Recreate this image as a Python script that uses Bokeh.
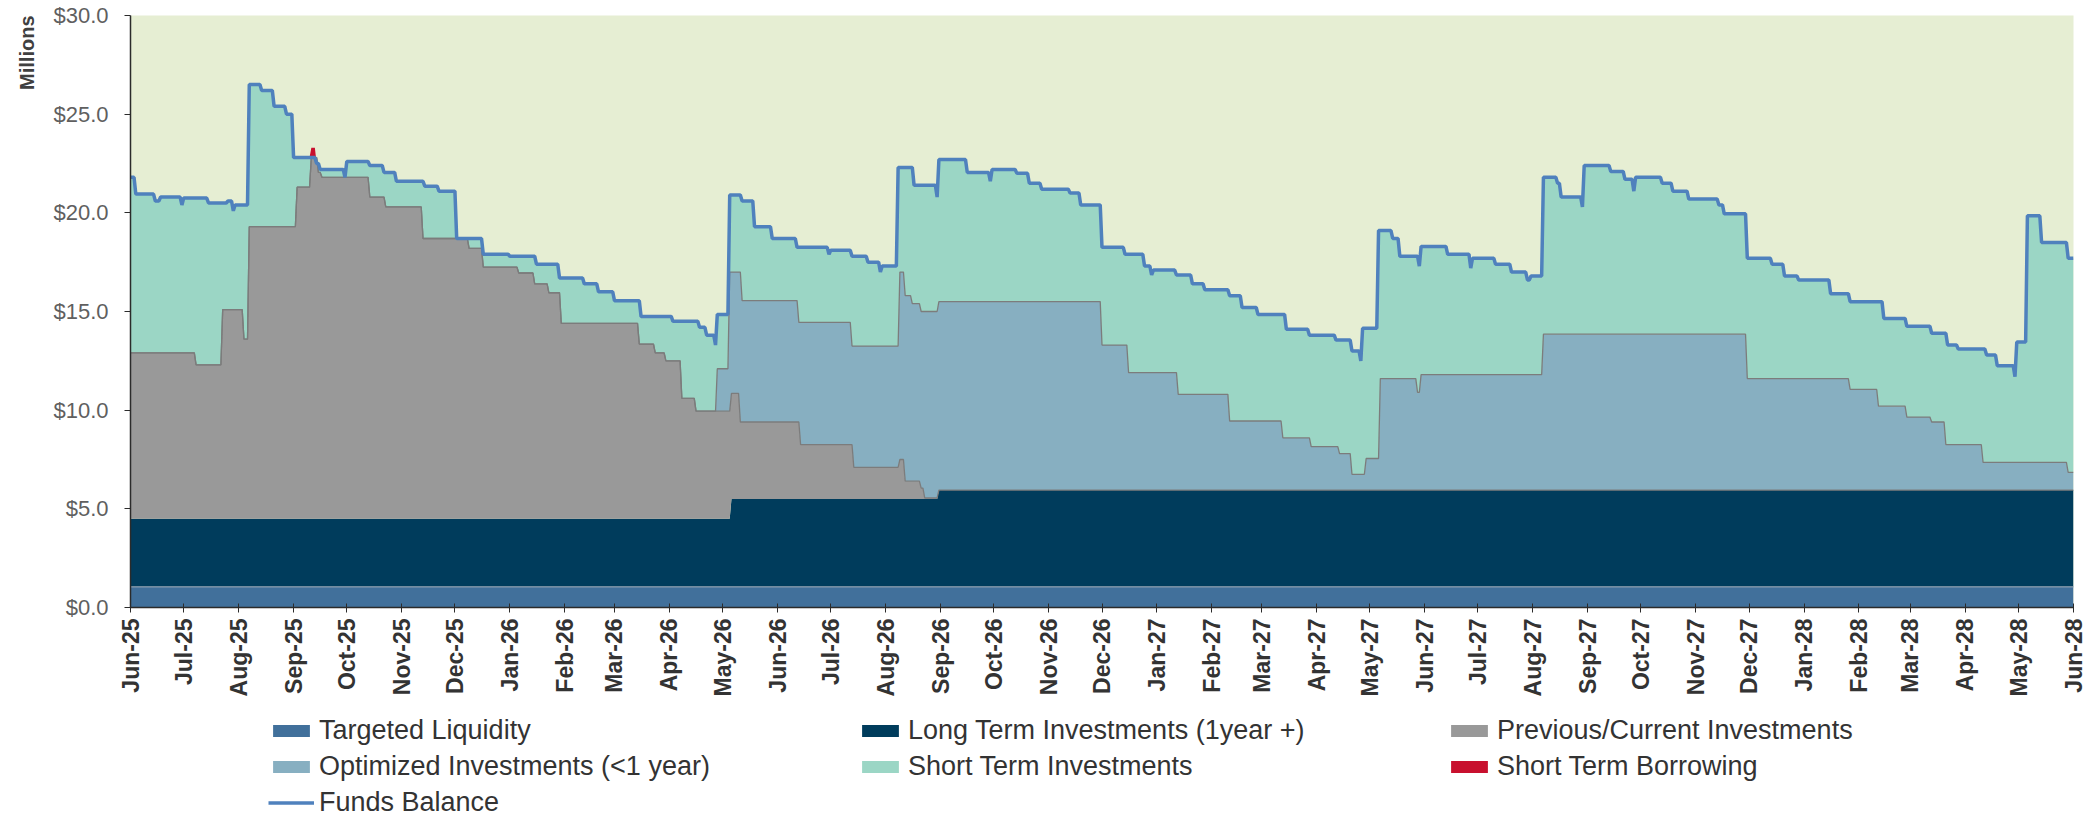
import math
import numpy as np
import pandas as pd
from bokeh.plotting import figure
from bokeh.layouts import column
from bokeh.models import (Range1d, MonthsTicker, DatetimeTickFormatter, FixedTicker,
                          NumeralTickFormatter, Legend, LegendItem, Title, ColumnDataSource)
from bokeh.embed import file_html
from bokeh.resources import INLINE

# ---------------- data (values in $ millions, stacked levels) ----------------
series_names = ["Targeted Liquidity", "Long Term Investments (1year +)", "Previous/Current Investments",
                "Optimized Investments (<1 year)", "Short Term Investments", "Short Term Borrowing",
                "Funds Balance"]

period_start = "2025-06-01"
period_end = "2028-06-01"

targeted_level = 1.05

lt_dates = ["2025-06-01", "2026-05-06", "2026-08-31"]
lt_top = [4.5, 5.5, 5.95]

prev_dates = ["2025-06-01", "2025-07-08", "2025-07-23", "2025-08-04", "2025-08-07", "2025-09-03",
              "2025-09-11", "2025-09-15", "2025-09-17", "2025-10-14", "2025-10-23", "2025-11-13",
              "2025-12-09", "2025-12-17", "2026-01-06", "2026-01-15", "2026-01-23", "2026-01-30",
              "2026-03-15", "2026-03-24", "2026-03-30", "2026-04-08", "2026-04-16", "2026-05-06",
              "2026-05-11", "2026-06-14", "2026-07-14", "2026-08-09", "2026-08-12", "2026-08-21",
              "2026-08-23", "2026-08-31"]
prev_top = [12.9, 12.3, 15.1, 13.6, 19.3, 21.3,
            22.8, 22.05, 21.8, 20.8, 20.3, 18.7,
            18.2, 17.25, 16.95, 16.4, 15.95, 14.4,
            13.35, 12.9, 12.5, 10.6, 9.95, 10.85,
            9.4, 8.25, 7.1, 7.5, 6.4, 6.05,
            5.55, 0.0]

opt_dates = ["2025-06-01", "2026-04-28", "2026-05-05", "2026-05-12", "2026-06-13", "2026-07-13",
             "2026-08-09", "2026-08-12", "2026-08-16", "2026-08-21", "2026-08-31", "2026-12-01",
             "2026-12-16", "2027-01-13", "2027-02-11", "2027-03-13", "2027-03-29", "2027-04-14",
             "2027-04-21", "2027-04-29", "2027-05-07", "2027-05-28", "2027-05-30", "2027-08-07",
             "2027-11-30", "2028-01-27", "2028-02-12", "2028-02-28", "2028-03-13", "2028-03-21",
             "2028-04-11", "2028-05-29"]
opt_top = [0.0, 12.1, 17.0, 15.55, 14.45, 13.25,
           17.0, 15.8, 15.4, 15.0, 15.5, 13.3,
           11.9, 10.8, 9.45, 8.6, 8.15, 7.8,
           6.75, 7.55, 11.6, 10.9, 11.8, 13.85,
           11.6, 11.05, 10.2, 9.65, 9.4, 8.25,
           7.35, 6.85]

funds_dates = ["2025-06-01", "2025-06-04", "2025-06-15", "2025-06-18", "2025-06-30", "2025-07-01",
               "2025-07-15", "2025-07-26", "2025-07-29", "2025-07-30", "2025-08-07", "2025-08-14",
               "2025-08-21", "2025-08-28", "2025-09-01", "2025-09-14", "2025-09-16", "2025-09-30",
               "2025-10-01", "2025-10-14", "2025-10-22", "2025-10-29", "2025-11-14", "2025-11-22",
               "2025-12-02", "2025-12-17", "2026-01-01", "2026-01-16", "2026-01-29", "2026-02-12",
               "2026-02-20", "2026-03-01", "2026-03-16", "2026-04-03", "2026-04-18", "2026-04-22",
               "2026-04-27", "2026-04-28", "2026-05-05", "2026-05-12", "2026-05-19", "2026-05-29",
               "2026-06-12", "2026-06-30", "2026-07-01", "2026-07-13", "2026-07-22", "2026-07-29",
               "2026-07-30", "2026-08-08", "2026-08-17", "2026-08-30", "2026-08-31", "2026-09-16",
               "2026-09-29", "2026-09-30", "2026-10-14", "2026-10-21", "2026-10-28", "2026-11-13",
               "2026-11-19", "2026-12-01", "2026-12-14", "2026-12-25", "2026-12-29", "2026-12-30",
               "2027-01-12", "2027-01-21", "2027-01-28", "2027-02-11", "2027-02-18", "2027-02-27",
               "2027-03-15", "2027-03-28", "2027-04-12", "2027-04-21", "2027-04-26", "2027-04-27",
               "2027-05-06", "2027-05-14", "2027-05-18", "2027-05-29", "2027-05-30", "2027-06-14",
               "2027-06-27", "2027-06-28", "2027-07-11", "2027-07-20", "2027-07-29", "2027-07-31",
               "2027-08-07", "2027-08-15", "2027-08-17", "2027-08-29", "2027-08-30", "2027-09-14",
               "2027-09-22", "2027-09-27", "2027-09-28", "2027-10-13", "2027-10-19", "2027-10-28",
               "2027-11-14", "2027-11-17", "2027-11-30", "2027-12-14", "2027-12-21", "2027-12-29",
               "2028-01-16", "2028-01-27", "2028-02-15", "2028-02-28", "2028-03-13", "2028-03-22",
               "2028-03-28", "2028-04-13", "2028-04-19", "2028-04-29", "2028-04-30", "2028-05-06",
               "2028-05-14", "2028-05-29"]
funds_vals = [21.8, 20.95, 20.6, 20.8, 20.4, 20.75,
              20.5, 20.6, 20.1, 20.4, 26.5, 26.2,
              25.4, 25.0, 22.8, 22.5, 22.2, 21.8,
              22.6, 22.4, 22.05, 21.6, 21.35, 21.1,
              18.7, 17.9, 17.8, 17.4, 16.7, 16.4,
              16.0, 15.55, 14.75, 14.5, 14.2, 13.8,
              13.3, 14.85, 20.9, 20.6, 19.3, 18.7,
              18.25, 17.9, 18.1, 17.8, 17.5, 17.0,
              17.3, 22.3, 21.4, 20.8, 22.7, 22.05,
              21.6, 22.2, 22.0, 21.5, 21.2, 21.0,
              20.4, 18.25, 17.9, 17.3, 16.85, 17.1,
              16.85, 16.4, 16.1, 15.8, 15.2, 14.85,
              14.1, 13.8, 13.55, 13.0, 12.5, 14.15,
              19.1, 18.7, 17.8, 17.3, 18.3, 17.9,
              17.2, 17.7, 17.4, 17.0, 16.6, 16.8,
              21.8, 21.5, 20.8, 20.3, 22.4, 22.1,
              21.7, 21.1, 21.8, 21.5, 21.1, 20.7,
              20.4, 19.95, 17.7, 17.4, 16.8, 16.6,
              15.9, 15.5, 14.65, 14.25, 13.9, 13.3,
              13.1, 12.8, 12.25, 11.7, 13.45, 19.85,
              18.5, 17.7]

borrow_dates = ["2025-06-01", "2025-09-11", "2025-09-14"]
borrow_vals = [0.0, 0.5, 0.0]

y_ticks = [0, 5, 10, 15, 20, 25, 30]

colors = ["#41709B", "#003C5C", "#999999", "#87AFC1", "#9BD6C5", "#C8102E", "#4F81BD"]

# ---------------- build daily step series ----------------
days = pd.date_range(period_start, period_end, freq="D")


def hold(dates, vals):
    d = pd.to_datetime(dates).values
    idx = np.searchsorted(d, days.values, side="right") - 1
    return np.asarray(vals, dtype=float)[idx]


tl = np.full(len(days), targeted_level)
lt = hold(lt_dates, lt_top)
gr = np.maximum(hold(prev_dates, prev_top), lt)
op = np.maximum(hold(opt_dates, opt_top), gr)
fb = hold(funds_dates, funds_vals)
bw = hold(borrow_dates, borrow_vals)

src = ColumnDataSource(dict(x=days, zero=np.zeros(len(days)), tl=tl, lt=lt, gr=gr, op=op,
                            stlo=np.minimum(op, fb), fb=fb, fbbw=fb + bw))

# ---------------- main chart ----------------
W = 2090
H_MAIN = 700
H_LEG = 118
p = figure(width=W, height=H_MAIN, x_axis_type="datetime", output_backend="svg",
           toolbar_location=None,
           x_range=Range1d(pd.Timestamp(period_start), pd.Timestamp(period_end)),
           y_range=Range1d(0, 30),
           min_border_left=130, min_border_right=W - 2073, min_border_top=15,
           min_border_bottom=H_MAIN - 607)
p.background_fill_color = "#E6EED3"
p.border_fill_color = "white"
p.outline_line_color = None
p.xgrid.grid_line_color = None
p.ygrid.grid_line_color = None

area_cols = [("zero", "tl"), ("tl", "lt"), ("lt", "gr"), ("gr", "op"), ("stlo", "fb"), ("fb", "fbbw")]
for (lo, hi), c in zip(area_cols, colors[:6]):
    p.varea(x="x", y1=lo, y2=hi, source=src, fill_color=c)

p.line(x="x", y="tl", source=src, line_color="#8A9BAE", line_width=1.3)
p.line(x="x", y="gr", source=src, line_color="#7C7C7C", line_width=1.3)
p.line(x="x", y="op", source=src, line_color="#7C7C7C", line_width=1.3)
p.line(x="x", y="fb", source=src, line_color=colors[6], line_width=3.5)

# axes
p.yaxis.ticker = FixedTicker(ticks=y_ticks)
p.yaxis.formatter = NumeralTickFormatter(format="$0.0")
p.yaxis.major_label_text_font = "Liberation Sans"
p.yaxis.major_label_text_font_size = "22px"
p.yaxis.major_label_text_color = "#5F5F5F"
p.yaxis.axis_line_color = "#2B2B2B"
p.yaxis.axis_line_width = 1.5
p.yaxis.major_tick_line_color = "#2B2B2B"
p.yaxis.major_tick_out = 6
p.yaxis.major_tick_in = 0
p.yaxis.minor_tick_line_color = None
p.yaxis.major_label_standoff = 16

p.xaxis.ticker = MonthsTicker(months=list(range(12)))
p.xaxis.formatter = DatetimeTickFormatter(months="%b-%y", days="%b-%y", years="%b-%y")
p.xaxis.major_label_orientation = math.pi / 2
p.xaxis.major_label_text_font = "Liberation Sans"
p.xaxis.major_label_text_font_style = "bold"
p.xaxis.major_label_text_font_size = "23px"
p.xaxis.major_label_text_color = "#333333"
p.xaxis.axis_line_color = "#2B2B2B"
p.xaxis.axis_line_width = 1.5
p.xaxis.major_tick_line_color = "#2B2B2B"
p.xaxis.major_tick_out = 5
p.xaxis.major_tick_in = 4
p.xaxis.minor_tick_line_color = None
p.xaxis.major_label_standoff = 6

p.add_layout(Title(text="Millions", align="right", text_font="Liberation Sans",
                   text_font_style="bold", text_font_size="20px", text_color="#404040",
                   standoff=26), "left")

# ---------------- legend strip ----------------
q = figure(width=W, height=H_LEG, output_backend="svg", toolbar_location=None,
           x_range=Range1d(0, 1), y_range=Range1d(0, 1),
           x_axis_location=None, y_axis_location=None,
           min_border_left=0, min_border_right=0, min_border_top=0, min_border_bottom=0)
q.outline_line_color = None
q.xgrid.grid_line_color = None
q.ygrid.grid_line_color = None
q.background_fill_color = "white"
q.border_fill_color = "white"

# legend-key glyphs (kept outside the visible range of the legend strip)
leg_renderers = []
for c in colors[:6]:
    leg_renderers.append(q.varea(x=[5, 6], y1=[5, 5], y2=[6, 6], fill_color=c))
leg_renderers.append(q.line(x=[5, 6], y=[5, 5], line_color=colors[6], line_width=3.5))

legend = Legend(items=[LegendItem(label=n, renderers=[r]) for n, r in zip(series_names, leg_renderers)],
                location=(138, 0), orientation="horizontal", ncols=3,
                glyph_width=46, glyph_height=15, label_standoff=5, label_width=533,
                label_height=29, spacing=5, padding=0, margin=0,
                label_text_font="Liberation Sans", label_text_font_size="27px",
                label_text_color="#333333", border_line_color=None, background_fill_alpha=0)
q.add_layout(legend, "center")

layout = column(p, q, spacing=0)
open("out.html", "w").write(file_html(layout, INLINE))
